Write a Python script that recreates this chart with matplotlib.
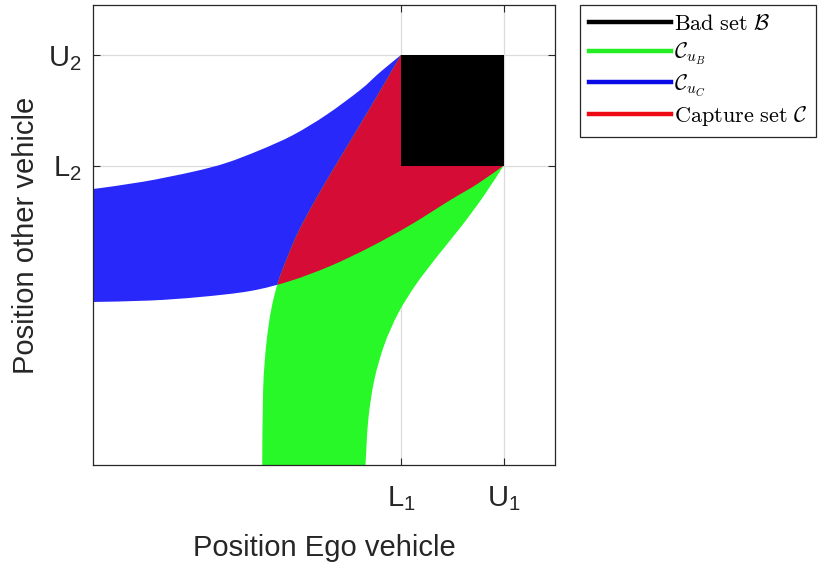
import numpy as np
import matplotlib.pyplot as plt
from matplotlib.patches import PathPatch, Rectangle
from matplotlib.path import Path
from matplotlib.lines import Line2D

plt.rcParams['font.family'] = ['Liberation Sans', 'DejaVu Sans']
plt.rcParams['mathtext.fontset'] = 'cm'

# bounds of the bad set B
L1, U1 = 3.0, 4.0
L2, U2 = 3.0, 4.0
x_ticks = [L1, U1]
y_ticks = [L2, U2]
x_tick_labels = [r'$\mathregular{L_1}$', r'$\mathregular{U_1}$']
y_tick_labels = [r'$\mathregular{L_2}$', r'$\mathregular{U_2}$']

# C_uC: upper edge ends at (L1, U2), lower edge ends at (U1, L2)
blue_upper_x = [0.0, 0.487, 0.975, 1.297, 1.628, 1.950, 2.272, 2.603, 2.798, 3.0]
blue_upper_y = [2.788, 2.854, 2.945, 3.024, 3.141, 3.277, 3.458, 3.684, 3.846, 4.0]
blue_lower_x = [0.0, 0.556, 1.043, 1.531, 1.921, 2.311, 2.701, 3.091, 3.481, 3.744, 4.0]
blue_lower_y = [1.767, 1.780, 1.812, 1.866, 1.957, 2.092, 2.264, 2.463, 2.689, 2.834, 3.0]

# C_uB: left edge ends at (L1, U2), right edge ends at (U1, L2)
green_left_x = [1.648, 1.657, 1.687, 1.735, 1.803, 1.891, 1.999, 2.155, 2.330, 2.506, 2.681, 2.847, 3.0]
green_left_y = [0.25, 0.971, 1.378, 1.694, 1.948, 2.165, 2.400, 2.671, 2.951, 3.222, 3.494, 3.756, 4.0]
green_right_x = [2.652, 2.681, 2.740, 2.837, 2.974, 3.149, 3.364, 3.598, 3.812, 4.0]
green_right_y = [0.25, 0.700, 1.061, 1.378, 1.667, 1.929, 2.192, 2.463, 2.734, 3.0]

labels = [r'$\mathrm{Bad\ set}\ \mathcal{B}$', r'$\mathcal{C}_{u_B}$',
          r'$\mathcal{C}_{u_C}$', r'$\mathrm{Capture\ set}\ \mathcal{C}$']


def curve_segments(xs, ys):
    # cubic bezier pieces (catmull-rom) through the given points
    p = np.column_stack([xs, ys])
    ext = np.vstack([p[0], p, p[-1]])
    verts, codes = [], []
    for i in range(1, len(ext) - 2):
        c1 = ext[i] + (ext[i + 1] - ext[i - 1]) / 6
        c2 = ext[i + 1] - (ext[i + 2] - ext[i]) / 6
        verts += [c1, c2, ext[i + 1]]
        codes += [Path.CURVE4] * 3
    return verts, codes


def band(edge1_x, edge1_y, edge2_x, edge2_y):
    # closes the two edges through the top-right corner of B
    verts = [(edge1_x[0], edge1_y[0])]
    codes = [Path.MOVETO]
    v, c = curve_segments(edge1_x, edge1_y)
    verts += v
    codes += c
    verts += [(U1, U2), (edge2_x[-1], edge2_y[-1])]
    codes += [Path.LINETO, Path.LINETO]
    v, c = curve_segments(edge2_x[::-1], edge2_y[::-1])
    verts += v
    codes += c
    verts.append(verts[0])
    codes.append(Path.CLOSEPOLY)
    return Path(np.array(verts, dtype=float), codes)


fig = plt.figure(figsize=(8.21, 5.62), dpi=100)
ax = fig.add_axes([93 / 821, 1 - 465 / 562, 462 / 821, 460 / 562])

blue_path = band(blue_upper_x, blue_upper_y, blue_lower_x, blue_lower_y)
green_path = band(green_left_x, green_left_y, green_right_x, green_right_y)

blue = PathPatch(blue_path, facecolor='#2828fb', edgecolor='none', zorder=2)
ax.add_patch(blue)
ax.add_patch(PathPatch(green_path, facecolor='#28f828', edgecolor='none', zorder=2))

# capture set = intersection of both sets
red = PathPatch(green_path, facecolor='#d40c36', edgecolor='none', zorder=3)
ax.add_patch(red)
red.set_clip_path(blue)

ax.add_patch(Rectangle((L1, L2), U1 - L1, U2 - L2, facecolor='black', edgecolor='none', zorder=4))

ax.set_xlim(0, 4.5)
ax.set_ylim(3 - 299.4 / 110.6, 3 + 160.6 / 110.6)
ax.set_xticks(x_ticks)
ax.set_xticklabels(x_tick_labels)
ax.set_yticks(y_ticks)
ax.set_yticklabels(y_tick_labels)
ax.grid(True, color='#dcdcdc', linewidth=0.9)
ax.set_axisbelow(True)
ax.tick_params(direction='in', length=5, width=0.8, top=True, right=True,
               labelsize=21, colors='#262626')
ax.tick_params(axis='x', pad=14)
ax.tick_params(axis='y', pad=8)
for s in ax.spines.values():
    s.set_color('#262626')
    s.set_linewidth(0.9)

ax.set_xlabel('Position Ego vehicle', fontsize=21, color='#262626', labelpad=15)
ax.set_ylabel('Position other vehicle', fontsize=21, color='#262626', labelpad=6)

colors = ['black', '#22ee22', '#0a0ae6', '#ee0a14']
handles = [Line2D([], [], color=c, lw=3.2) for c in colors]
leg = fig.legend(handles, labels, loc='upper left', bbox_to_anchor=(580 / 821, 1 - 5 / 562),
                 fontsize=16, frameon=True, fancybox=False, framealpha=1,
                 edgecolor='#262626', handlelength=3.7, handletextpad=0.15,
                 labelspacing=0.25, borderpad=0.4, borderaxespad=0)
leg.get_frame().set_linewidth(0.9)

fig.savefig('out.png', dpi=100)
